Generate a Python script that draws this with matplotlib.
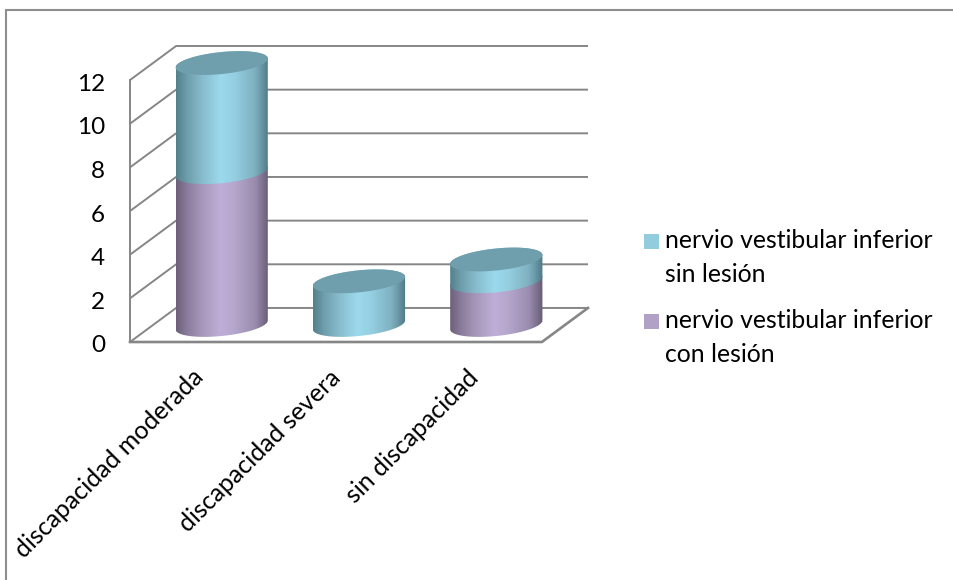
import numpy as np
import matplotlib
matplotlib.use("Agg")
import matplotlib.pyplot as plt
from matplotlib.patches import Polygon, Rectangle
from matplotlib.lines import Line2D
from matplotlib.colors import LinearSegmentedColormap
from matplotlib.transforms import ScaledTranslation

categories = ["discapacidad moderada", "discapacidad severa", "sin discapacidad"]
con_lesion = [7, 0, 2]
sin_lesion = [5, 2, 1]
label_sin = ["nervio vestibular inferior", "sin lesión"]
label_con = ["nervio vestibular inferior", "con lesión"]
yticks = [0, 2, 4, 6, 8, 10, 12]

W, H = 954, 580
plt.rcParams['font.family'] = ['Lato', 'DejaVu Sans']
fig = plt.figure(figsize=(W/100, H/100), dpi=100, facecolor='white')

# outer border: only the top and left edges show in the crop
fig.add_artist(Line2D([6.5/W, 6.5/W, 1], [0, 1-9.5/H, 1-9.5/H], transform=fig.transFigure,
                      color='#8E8E8E', lw=1.5, solid_joinstyle='miter'))

# plot area (pixels): x 130..588, y 342..46
ax = fig.add_axes([130/W, 1-342/H, 458/W, 296/H])
cat_w = 137.0
unit = 21.8
depth_x = 46/cat_w
depth_y = 34/unit
ax.set_xlim(-0.5, 2.5+depth_x)
ax.set_ylim(0, 12+depth_y)
ax.patch.set_visible(False)
for s in ax.spines.values():
    s.set_visible(False)

grid = '#868686'
lw = 1.4
for v in yticks:
    ax.plot([-0.5, -0.5+depth_x, 2.5+depth_x], [v, v+depth_y, v+depth_y],
            color=grid, lw=lw, solid_capstyle='butt', clip_on=False, zorder=1)
ax.plot([-0.5, -0.5], [0, 12], color=grid, lw=lw, clip_on=False, zorder=1)
ax.plot([-0.5, 2.5, 2.5+depth_x], [0, 0, depth_y], color=grid, lw=lw+0.5, clip_on=False, zorder=1)

# cylinders
a = 46/cat_w
b = 11/unit
sh = 4.5/unit
cm_sin = LinearSegmentedColormap.from_list('s', [(0, '#53808C'), (0.12, '#6F9EAC'), (0.28, '#87BCCC'),
                                                 (0.48, '#9CD9EC'), (0.62, '#95D0E2'), (0.85, '#7FB0C0'), (1, '#4F7A86')])
cm_con = LinearSegmentedColormap.from_list('c', [(0, '#6C6079'), (0.12, '#8A7C9C'), (0.28, '#A698BA'),
                                                 (0.48, '#BFAFD8'), (0.62, '#B6A7CD'), (0.85, '#9A8DAE'), (1, '#675C75')])
top_col = '#6F9FAD'
gradient = np.linspace(0, 1, 256)[None, :]
t = np.linspace(0, np.pi, 60)

def seg_path(cx, y0, y1):
    x_f = cx + a*np.cos(t[::-1])
    y_f = y0 + sh*np.cos(t[::-1]) - b*np.sin(t[::-1])
    x_b = cx + a*np.cos(t)
    y_b = y1 + sh*np.cos(t) + b*np.sin(t)
    return np.r_[x_f, x_b], np.r_[y_f, y_b]

x0 = depth_x/2
y_off = depth_y/2
for i in range(len(categories)):
    cx = i + x0
    base = y_off
    for val, cmap in ((con_lesion[i], cm_con), (sin_lesion[i], cm_sin)):
        if val <= 0:
            continue
        px, py = seg_path(cx, base, base+val)
        im = ax.imshow(gradient, extent=[cx-a, cx+a, py.min(), py.max()], cmap=cmap,
                       aspect='auto', zorder=3, interpolation='bilinear')
        poly = Polygon(np.c_[px, py], closed=True, transform=ax.transData, fc='none', ec='none')
        ax.add_patch(poly)
        im.set_clip_path(poly)
        base += val
    tt = np.linspace(0, 2*np.pi, 120)
    ax.fill(cx + a*np.cos(tt), base + sh*np.cos(tt) + b*np.sin(tt), color=top_col, lw=0, zorder=4)

ax.set_xlim(-0.5, 2.5+depth_x)
ax.set_ylim(0, 12+depth_y)

ax.set_yticks(yticks)
ax.set_yticklabels([str(v) for v in yticks], fontsize=17.5, color='black')
ax.tick_params(axis='y', length=0, pad=18)
ax.set_xticks(range(len(categories)))
ax.set_xticklabels(categories, rotation=45, ha='right', va='top', rotation_mode='anchor',
                   fontsize=18, color='black')
ax.tick_params(axis='x', length=0, pad=14)
for lab in ax.get_xticklabels():
    lab.set_transform(lab.get_transform() + ScaledTranslation(-7/100, -4/100, fig.dpi_scale_trans))
for lab in ax.get_yticklabels():
    lab.set_transform(lab.get_transform() + ScaledTranslation(0, -2/100, fig.dpi_scale_trans))

# legend, drawn in figure space to keep the reference's line spacing
for (lines, col, sq_top, base1) in ((label_sin, '#93CDDD', 234, 248), (label_con, '#B2A1C7', 314, 328)):
    fig.add_artist(Rectangle((644/W, 1-(sq_top+15)/H), 15/W, 15/H, transform=fig.transFigure,
                             fc=col, ec='none'))
    for k, line in enumerate(lines):
        fig.text(665.5/W, 1-(base1+k*33.5)/H, line, fontsize=17.8, color='black', va='baseline', ha='left')

fig.savefig('out.png', dpi=100)
